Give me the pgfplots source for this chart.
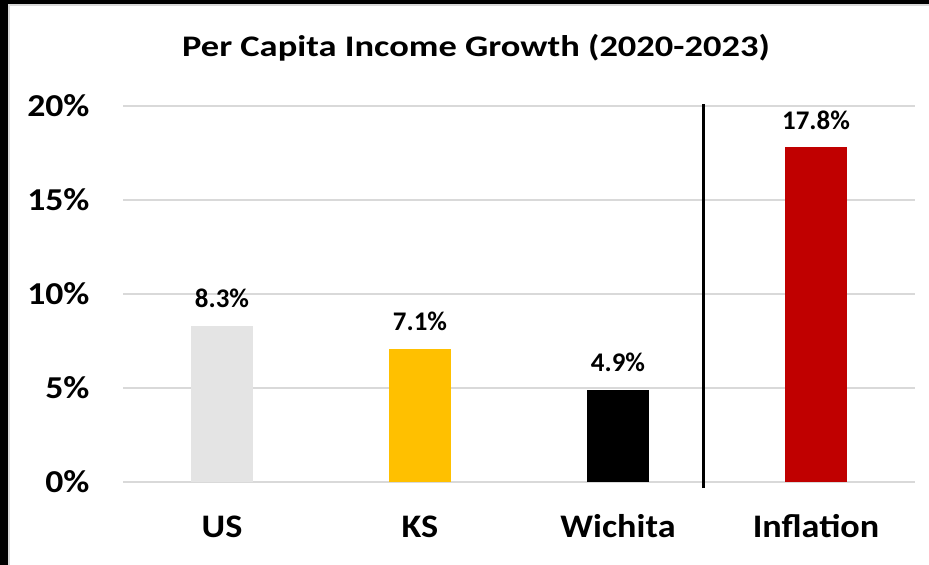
\documentclass[border=0pt]{standalone}
\usepackage{pgfplots}
\pgfplotsset{compat=1.18}
\usepackage{fontspec}
\setmainfont{Carlito}
\definecolor{grid}{HTML}{D9D9D9}
\definecolor{usc}{HTML}{E4E4E4}
\definecolor{ksc}{HTML}{FFC000}
\definecolor{infc}{HTML}{C00000}
\newcommand{\wx}[2]{\scalebox{#1}[1]{#2}}
\begin{document}
\begin{tikzpicture}[x=1bp,y=1bp]
\useasboundingbox (0,0) rectangle (929,565);
\fill[white] (0,0) rectangle (929,565);
\fill[black] (0,0) rectangle (8,565);
\fill[black] (0,561) rectangle (929,565);
\fill[grid] (8,0) rectangle (10,561);
\fill[grid] (8,558.5) rectangle (929,561);
\node[anchor=base,font=\fontsize{30}{36}\selectfont\bfseries] at (476,508) {\wx{1.22}{Per Capita Income Growth (2020-2023)}};
\begin{axis}[
  at={(123bp,83bp)}, anchor=south west,
  scale only axis, width=792bp, height=376bp,
  xmin=-0.5, xmax=3.5, ymin=0, ymax=20,
  axis line style={draw=none},
  axis x line*=bottom,
  ytick={0,5,10,15,20},
  yticklabel={\wx{1.12}{\pgfmathprintnumber{\tick}\%}},
  xtick={0,1,2,3},
  xticklabels={\wx{1.1}{US},\wx{1.1}{KS},\wx{1.1}{Wichita},\wx{1.1}{Inflation}},
  major tick length=0pt,
  ymajorgrids, grid style={draw=grid, line width=2bp},
  /pgf/number format/assume math mode=true,
  yticklabel style={font=\fontsize{32}{38}\selectfont\bfseries, anchor=east, xshift=-30bp},
  xticklabel style={font=\fontsize{33}{40}\selectfont\bfseries, anchor=base, yshift=-56bp},
  clip=false,
  ybar, bar width=0.313, bar shift=0pt,
  nodes near coords={\pgfmathprintnumber[fixed,precision=1,fixed zerofill]{\pgfplotspointmeta}\%},
  every node near coord/.append style={font=\fontsize{27}{33}\selectfont\bfseries, anchor=base, yshift=18bp},
]
\addplot[fill=usc, draw=none] coordinates {(0,8.3)};
\addplot[fill=ksc, draw=none] coordinates {(1,7.1)};
\addplot[fill=black, draw=none] coordinates {(2,4.9)};
\addplot[fill=infc, draw=none] coordinates {(3,17.8)};
\addplot[sharp plot, draw=black, line width=3bp, mark=none, nodes near coords={}] coordinates {(2.43,-0.32) (2.43,20.1)};
\end{axis}
\end{tikzpicture}
\end{document}
